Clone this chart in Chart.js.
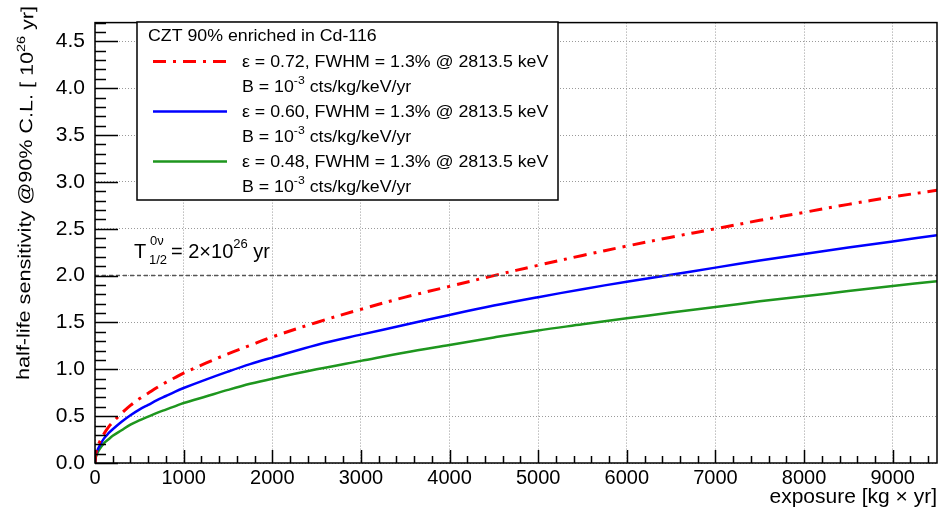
<!DOCTYPE html>
<html>
<head>
<meta charset="utf-8">
<script src="https://cdn.jsdelivr.net/npm/chart.js@4"></script>
<style>
  body { margin: 0; background: #fff; }
</style>
</head>
<body>
<canvas id="chart" width="938" height="517"></canvas>
<script>
// exposure in kg x yr
const exposure = [0, 10, 25, 50, 100, 150, 200, 300, 400, 500, 600, 700, 800, 900, 1000,
  1250, 1500, 1750, 2000, 2500, 3000, 3500, 4000, 4500, 5000, 5500, 6000, 6500, 7000,
  7500, 8000, 8500, 9000, 9500];
// half-life sensitivity in 10^26 yr
const sens072 = [0, 0.10, 0.16, 0.22, 0.31, 0.38, 0.435, 0.53, 0.615, 0.685, 0.745, 0.805,
  0.86, 0.91, 0.96, 1.065, 1.165, 1.255, 1.345, 1.50, 1.64, 1.77, 1.885, 2.0, 2.11, 2.215,
  2.315, 2.41, 2.50, 2.59, 2.675, 2.76, 2.84, 2.91];
const sens060 = [0, 0.08, 0.13, 0.18, 0.26, 0.315, 0.36, 0.44, 0.51, 0.57, 0.62, 0.67,
  0.715, 0.76, 0.80, 0.89, 0.975, 1.055, 1.125, 1.26, 1.37, 1.475, 1.58, 1.68, 1.77, 1.855,
  1.935, 2.01, 2.085, 2.16, 2.23, 2.30, 2.365, 2.43];
const sens048 = [0, 0.065, 0.10, 0.145, 0.21, 0.25, 0.29, 0.35, 0.41, 0.455, 0.495, 0.535,
  0.57, 0.605, 0.64, 0.71, 0.78, 0.845, 0.90, 1.0, 1.09, 1.18, 1.26, 1.34, 1.415, 1.48,
  1.545, 1.605, 1.665, 1.725, 1.78, 1.835, 1.89, 1.94];
const targetX = [0, 9500];
const targetY = [2, 2];
const xTickValues = [0, 1000, 2000, 3000, 4000, 5000, 6000, 7000, 8000, 9000];

const seriesLabels = [
  'ε = 0.72, FWHM = 1.3% @ 2813.5 keV',
  'ε = 0.60, FWHM = 1.3% @ 2813.5 keV',
  'ε = 0.48, FWHM = 1.3% @ 2813.5 keV'
];
const legendHeader = 'CZT 90% enriched in Cd-116';

const FONT = '"Liberation Sans", Arial, Helvetica, sans-serif';
const RED = '#ff0000';
const BLUE = '#0000ff';
const GREEN = '#1e961e';
const RED_DASH = [13, 7, 3, 7];

const toPoints = (xs, ys) => xs.map((x, i) => ({ x, y: ys[i] }));

// draws pieces of text one after another, some raised or lowered
function drawParts(ctx, parts, x, y) {
  let cx = x;
  parts.forEach(p => {
    ctx.font = `${p.size}px ${FONT}`;
    ctx.fillText(p.t, cx, y + (p.dy || 0));
    cx += ctx.measureText(p.t).width;
  });
  return cx - x;
}
function partsWidth(ctx, parts) {
  let w = 0;
  parts.forEach(p => {
    ctx.font = `${p.size}px ${FONT}`;
    w += ctx.measureText(p.t).width;
  });
  return w;
}

const rootStyle = {
  id: 'rootStyle',
  afterDraw(chart) {
    const { ctx, chartArea: a, scales: { x, y } } = chart;
    ctx.save();
    ctx.fillStyle = '#000';
    ctx.strokeStyle = '#000';
    ctx.textBaseline = 'alphabetic';

    // inward tick marks, ROOT style
    ctx.lineWidth = 1.5;
    ctx.beginPath();
    for (let v = 0; v <= 4.7001; v += 0.1) {
      const py = Math.round(y.getPixelForValue(v)) + 0.5;
      const major = Math.abs(v / 0.5 - Math.round(v / 0.5)) < 1e-6;
      ctx.moveTo(a.left, py);
      ctx.lineTo(a.left + (major ? 23 : 11), py);
    }
    for (let v = 0; v <= 9500; v += 200) {
      const px = Math.round(x.getPixelForValue(v)) + 0.5;
      const major = v % 1000 === 0;
      ctx.moveTo(px, a.bottom);
      ctx.lineTo(px, a.bottom - (major ? 13 : 7));
    }
    ctx.stroke();

    // frame
    ctx.strokeRect(a.left, a.top, a.right - a.left, a.bottom - a.top);

    // y title, drawn upward from the bottom
    const yTitle = [
      { t: 'half-life sensitivity @90% C.L. [ 10', size: 18 },
      { t: '26', size: 12, dy: -8 },
      { t: ' yr]', size: 18 }
    ];
    const yw = partsWidth(ctx, yTitle);
    ctx.save();
    ctx.translate(29, 380);
    ctx.rotate(-Math.PI / 2 + 0.012);
    ctx.scale(374 / yw, 1);
    drawParts(ctx, yTitle, 0, 0);
    ctx.restore();

    ctx.font = `21px ${FONT}`;
    ctx.textAlign = 'right';
    ctx.fillText('exposure [kg × yr]', 937, 503);
    ctx.textAlign = 'left';

    // T1/2 annotation above the target line
    ctx.font = `20px ${FONT}`;
    ctx.fillText('T', 134, 258);
    ctx.font = `13px ${FONT}`;
    ctx.fillText('0ν', 150, 245);
    ctx.fillText('1/2', 149, 264);
    drawParts(ctx, [
      { t: '=', size: 20 },
      { t: ' 2×10', size: 20 },
      { t: '26', size: 13, dy: -10 },
      { t: ' yr', size: 20 }
    ], 171, 258);

    // legend box
    const bx = 137, by = 22, bw = 421, bh = 178;
    ctx.fillStyle = '#fff';
    ctx.fillRect(bx, by, bw, bh);
    ctx.lineWidth = 1.5;
    ctx.strokeRect(bx, by, bw, bh);
    ctx.fillStyle = '#000';

    const sx = 1.11;
    ctx.save();
    ctx.translate(148, 41);
    ctx.scale(sx, 1);
    ctx.font = `16px ${FONT}`;
    ctx.fillText(legendHeader, 0, 0);
    ctx.restore();

    const colors = [RED, BLUE, GREEN];
    seriesLabels.forEach((lbl, i) => {
      const base = 67 + i * 50;
      ctx.save();
      ctx.strokeStyle = colors[i];
      ctx.lineWidth = i === 0 ? 3 : 2.5;
      ctx.setLineDash(i === 0 ? RED_DASH : []);
      ctx.beginPath();
      ctx.moveTo(153, base - 5.5);
      ctx.lineTo(227, base - 5.5);
      ctx.stroke();
      ctx.restore();

      ctx.save();
      ctx.translate(242, base);
      ctx.scale(sx, 1);
      ctx.font = `16px ${FONT}`;
      ctx.fillText(lbl, 0, 0);
      drawParts(ctx, [
        { t: 'B = 10', size: 16 },
        { t: '-3', size: 11, dy: -8 },
        { t: ' cts/kg/keV/yr', size: 16 }
      ], 0, 25);
      ctx.restore();
    });
    ctx.restore();
  }
};

const lineStyle = {
  pointRadius: 0,
  fill: false,
  tension: 0.35
};

new Chart(document.getElementById('chart'), {
  type: 'line',
  data: {
    datasets: [
      {
        label: 'target',
        data: toPoints(targetX, targetY),
        borderColor: '#555',
        borderWidth: 1.5,
        borderDash: [4, 3],
        pointRadius: 0,
        fill: false
      },
      {
        label: seriesLabels[0],
        data: toPoints(exposure, sens072),
        borderColor: RED,
        borderWidth: 3,
        borderDash: RED_DASH,
        ...lineStyle
      },
      {
        label: seriesLabels[1],
        data: toPoints(exposure, sens060),
        borderColor: BLUE,
        borderWidth: 2.5,
        ...lineStyle
      },
      {
        label: seriesLabels[2],
        data: toPoints(exposure, sens048),
        borderColor: GREEN,
        borderWidth: 2.5,
        ...lineStyle
      }
    ]
  },
  options: {
    responsive: false,
    animation: false,
    layout: { padding: { left: 0, right: 1, top: 5, bottom: 0 } },
    plugins: {
      legend: { display: false },
      tooltip: { enabled: false }
    },
    scales: {
      x: {
        type: 'linear',
        min: 0,
        max: 9500,
        afterFit(scale) { scale.height = 54; },
        afterBuildTicks(scale) { scale.ticks = xTickValues.map(v => ({ value: v })); },
        ticks: {
          autoSkip: false,
          maxRotation: 0,
          padding: 3,
          color: '#000',
          font: { family: FONT, size: 20 },
          callback: v => String(v)
        },
        grid: { color: '#9a9a9a', lineWidth: 1, drawTicks: false },
        border: { display: false, dash: [1, 2] }
      },
      y: {
        min: 0,
        max: 4.7,
        afterFit(scale) { scale.width = 95; },
        ticks: {
          stepSize: 0.5,
          includeBounds: false,
          padding: 10,
          color: '#000',
          font: { family: FONT, size: 21 },
          callback: v => v.toFixed(1)
        },
        grid: { color: '#9a9a9a', lineWidth: 1, drawTicks: false },
        border: { display: false, dash: [1, 2] }
      }
    }
  },
  plugins: [rootStyle]
});
</script>
</body>
</html>
